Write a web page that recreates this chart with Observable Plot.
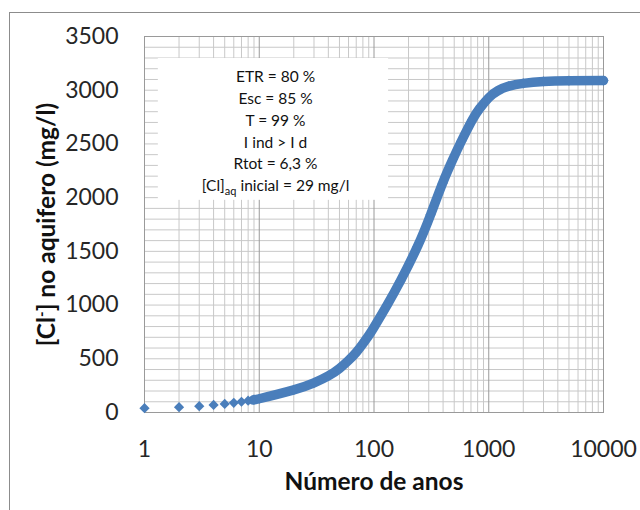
<!DOCTYPE html>
<html><head><meta charset="utf-8">
<script src="https://cdn.jsdelivr.net/npm/d3@7"></script>
<script src="https://cdn.jsdelivr.net/npm/@observablehq/plot@0.6"></script>
<style>
body{margin:0;background:#fff;}
#wrap{position:relative;width:640px;height:510px;overflow:hidden;background:#fff;}
#border{position:absolute;left:9px;top:12px;width:700px;height:600px;border-left:1.5px solid #8c8c8c;border-top:1.5px solid #8c8c8c;}
#chart{position:absolute;left:0;top:0;}
</style></head><body>
<div id="wrap"><div id="border"></div><div id="chart"></div></div>
<script>
// Years (x) and chloride concentration in the aquifer (mg/l)
const years    = [1, 2, 3, 4, 5, 6, 7, 8, 9, 10, 20, 30, 40, 50, 60, 70, 80, 90, 100, 130, 170, 238, 311, 396, 488, 577, 720, 833, 1000, 1200, 1500, 2000, 3000, 5000, 10000];
const chloride = [40, 50, 59, 70, 80, 90, 100, 110, 120, 128, 210, 275, 340, 410, 485, 560, 640, 717, 794, 1000, 1225, 1540, 1840, 2135, 2360, 2525, 2725, 2830, 2930, 2995, 3038, 3064, 3082, 3089, 3090];
const xTicks = [1, 10, 100, 1000, 10000];
const yTicks = [0, 500, 1000, 1500, 2000, 2500, 3000, 3500];
const annotation = ["ETR = 80 %", "Esc = 85 %", "T = 99 %", "I ind > I d", "Rtot = 6,3 %", "[Cl]aq inicial = 29 mg/l"];
const xLabel = "Número de anos";
const yLabel = "[Cl-] no aquifero (mg/l)";

const data = years.map((t, i) => ({t, v: chloride[i]}));
const joined = data.filter(d => d.t >= 9);
const yGrid = d3.range(0, 3501, 100);
const xMinor = [];
for (const d of xTicks.slice(0, -1)) for (let k = 2; k <= 9; k++) xMinor.push(d * k);

const blue = "#4a7ebb";
const plot = Plot.plot({
  width: 640, height: 510,
  marginLeft: 144, marginRight: 37, marginTop: 36, marginBottom: 98,
  style: {fontFamily: "Lato, sans-serif", background: "transparent", color: "#262626"},
  x: {type: "log", domain: [1, 10000], label: null},
  y: {domain: [0, 3500], label: null},
  marks: [
    Plot.ruleY(yGrid, {stroke: "#c8c8c8", strokeWidth: 1}),
    Plot.ruleX(xMinor, {stroke: "#c8c8c8", strokeWidth: 1}),
    Plot.ruleX(xTicks, {stroke: "#9a9a9a", strokeWidth: 1}),
    Plot.frame({stroke: "#9a9a9a"}),
    Plot.rect([0], {x1: () => 1.32, x2: () => 134, y1: () => 1975, y2: () => 3295, fill: "white"}),
    Plot.text([annotation.join("\n")], {frameAnchor: "top-left", dx: 131, dy: 30.5, lineAnchor: "top", textAnchor: "middle", lineHeight: 1.4, fontSize: 15.5, fill: "#111"}),
    Plot.line(joined, {x: "t", y: "v", stroke: blue, strokeWidth: 9.5, curve: "natural"}),
    Plot.dot(data, {x: "t", y: "v", symbol: "diamond2", r: 4.6, fill: blue, stroke: "none"}),
    Plot.axisX({ticks: xTicks, tickFormat: d => String(d), tickSize: 0, tickPadding: 28, fontSize: 23, label: null}),
    Plot.axisY({ticks: yTicks, tickFormat: d => String(d), tickSize: 0, tickPadding: 26, fontSize: 23, label: null}),
    Plot.text([xLabel], {frameAnchor: "bottom", dy: 70, lineAnchor: "middle", fontSize: 24.5, fontWeight: "bold", fill: "#111"}),
    Plot.text([yLabel], {frameAnchor: "left", dx: -97, rotate: -90, textAnchor: "middle", lineAnchor: "middle", fontSize: 24.5, fontWeight: "bold", fill: "#111"})
  ]
});
document.getElementById("chart").appendChild(plot);

// subscript "aq" and superscript "-"
const svg = d3.select(plot);
svg.selectAll("tspan").each(function() {
  const s = d3.select(this);
  if (this.textContent === "[Cl]aq inicial = 29 mg/l") {
    s.text(null);
    s.append("tspan").text("[Cl]");
    s.append("tspan").attr("dy", 4.5).attr("font-size", "11px").text("aq");
    s.append("tspan").attr("dy", -4.5).text(" inicial = 29 mg/l");
  }
});
svg.selectAll("text").each(function() {
  const s = d3.select(this);
  if (this.textContent === yLabel && this.children.length === 0) {
    s.text(null);
    s.append("tspan").text("[Cl");
    s.append("tspan").attr("dy", -8).attr("font-size", "15px").text("-");
    s.append("tspan").attr("dy", 8).text("] no aquifero (mg/l)");
  }
});
</script>
</body></html>
